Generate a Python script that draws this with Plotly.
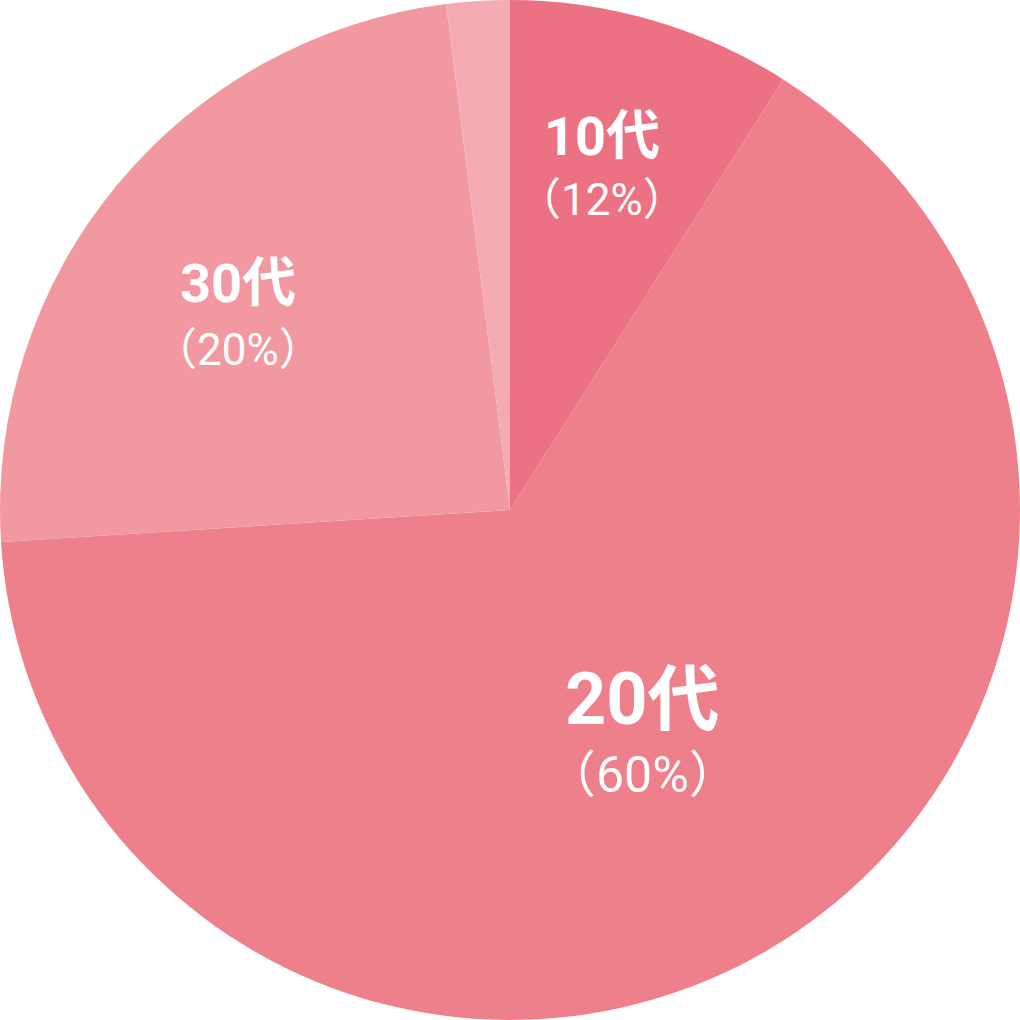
import plotly.graph_objects as go

categories = ["10代", "20代", "30代", "その他"]
values = [9.0, 65.0, 24.0, 2.0]
pct_labels = ["（12%）", "（60%）", "（20%）", ""]
colors = ["#ec7182", "#ee808c", "#f198a1", "#f4abb3"]

# label positions (paper coords) and sizes for the shown labels
label_pos = {"10代": (0.590, 0.866, 0.804, 54, 44),
             "20代": (0.630, 0.314, 0.240, 72, 50),
             "30代": (0.233, 0.722, 0.657, 54, 44)}

fig = go.Figure(go.Pie(
    labels=categories, values=values, sort=False, direction="clockwise",
    rotation=0, marker=dict(colors=colors, line=dict(width=0)),
    textinfo="none", hoverinfo="label+percent", showlegend=False,
    domain=dict(x=[0, 1], y=[0, 1]),
))

anns = []
for cat, pct in zip(categories, pct_labels):
    if cat not in label_pos:
        continue
    x, y1, y2, s1, s2 = label_pos[cat]
    anns.append(dict(x=x, y=y1, xref="paper", yref="paper", text=cat, showarrow=False,
                     xanchor="center", yanchor="middle",
                     font=dict(family="Roboto, Noto Sans CJK JP", size=s1, color="white", weight=700)))
    anns.append(dict(x=x, y=y2, xref="paper", yref="paper", text=pct, showarrow=False,
                     xanchor="center", yanchor="middle",
                     font=dict(family="Roboto, Noto Sans CJK JP", size=s2, color="white", weight=400)))

fig.update_layout(width=1020, height=1020, margin=dict(l=0, r=0, t=0, b=0),
                  paper_bgcolor="white", plot_bgcolor="white", annotations=anns)
fig.write_html("out.html", config={"displayModeBar": False},
               post_script="document.body.style.margin='0';document.body.style.padding='0';")
